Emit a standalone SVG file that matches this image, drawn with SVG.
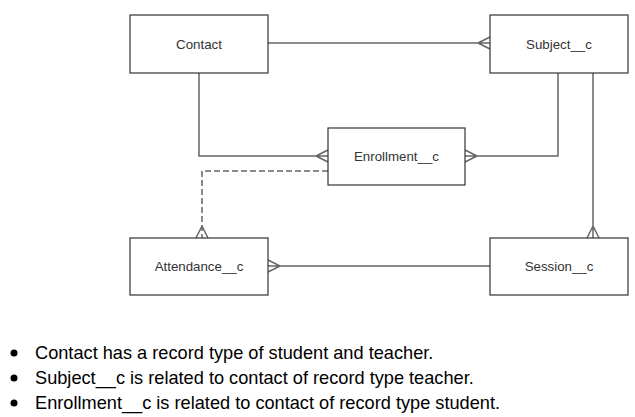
<svg xmlns="http://www.w3.org/2000/svg" width="635" height="417" viewBox="0 0 635 417">
<style>
.box{fill:#fff;stroke:#333;stroke-width:1.2}
.lbl{font-family:"Liberation Sans",Arial,sans-serif;font-size:13.3px;fill:#333;text-anchor:middle;dominant-baseline:central}
.c{fill:none;stroke:#666;stroke-width:1.5}
.d{stroke-dasharray:6,3}
.note{font-family:"Liberation Sans",Arial,sans-serif;font-size:18.2px;fill:#000}
</style>
<rect width="635" height="417" fill="#fff"/>
<g id="connectors">
<path class="c" d="M268,43 H490 M478,43 L490,37 M478,43 L490,49"/>
<path class="c" d="M199,73 V156 H328 M316,156 L328,150 M316,156 L328,162"/>
<path class="c" d="M558,73 V156 H465 M477,156 L465,150 M477,156 L465,162"/>
<path class="c" d="M593,73 V238 M593,226 L587,238 M593,226 L599,238"/>
<path class="c d" d="M328,171 H202 V238"/>
<path class="c" d="M202,226 L196,238 M202,226 L208,238"/>
<path class="c" d="M490,266 H268 M280,266 L268,260 M280,266 L268,272"/>
</g>
<g id="contact"><rect class="box" x="130" y="15" width="138" height="58"/><text class="lbl" x="199" y="44">Contact</text></g>
<g id="subject"><rect class="box" x="490" y="15" width="138" height="58"/><text class="lbl" x="559" y="44">Subject__c</text></g>
<g id="enrollment"><rect class="box" x="328" y="128" width="137" height="57"/><text class="lbl" x="396.5" y="156">Enrollment__c</text></g>
<g id="attendance"><rect class="box" x="130" y="238" width="138" height="57"/><text class="lbl" x="199" y="266">Attendance__c</text></g>
<g id="session"><rect class="box" x="490" y="238" width="138" height="57"/><text class="lbl" x="559" y="266">Session__c</text></g>
<g id="notes">
<circle cx="14" cy="353" r="3.5" fill="#000"/>
<circle cx="14" cy="378" r="3.5" fill="#000"/>
<circle cx="14" cy="403" r="3.5" fill="#000"/>
<text class="note" x="35" y="359">Contact has a record type of student and teacher.</text>
<text class="note" x="35" y="384">Subject__c is related to contact of record type teacher.</text>
<text class="note" x="35" y="409">Enrollment__c is related to contact of record type student.</text>
</g>
</svg>
